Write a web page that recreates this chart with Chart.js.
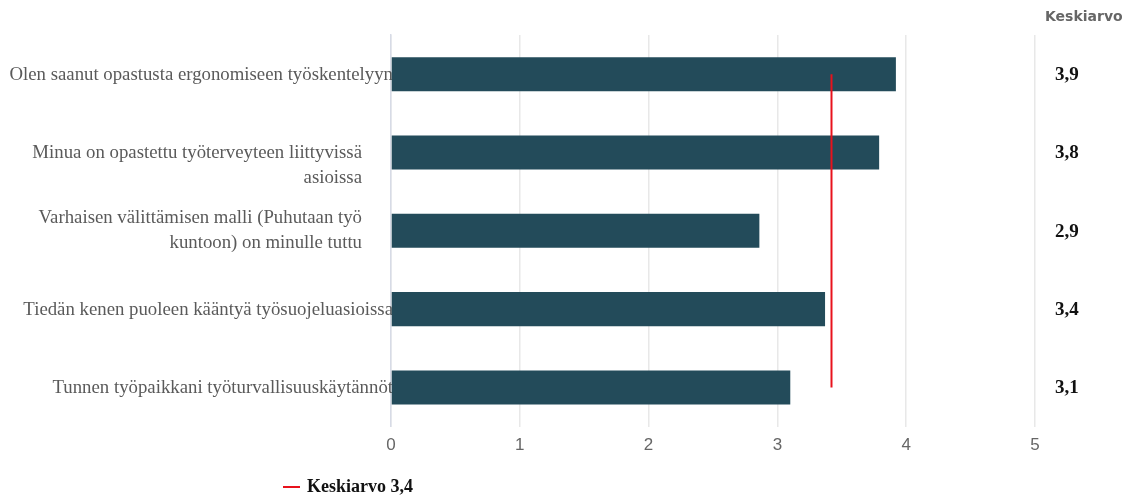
<!DOCTYPE html>
<html lang="fi">
<head>
<meta charset="utf-8">
<title>Työturvallisuus – keskiarvot</title>
<script src="https://cdn.jsdelivr.net/npm/chart.js@4.4.1/dist/chart.umd.min.js"></script>
<style>
  html, body { margin: 0; padding: 0; background: #ffffff; }
  #wrap { width: 1134px; height: 495px; position: relative; }
</style>
</head>
<body>
<div id="wrap"><canvas id="chart" width="1134" height="495"></canvas></div>
<script>
// Statements (lines split where the label wraps)
const statements = [
  ["Olen saanut opastusta ergonomiseen työskentelyyn"],
  ["Minua on opastettu työterveyteen liittyvissä", "asioissa"],
  ["Varhaisen välittämisen malli (Puhutaan työ", "kuntoon) on minulle tuttu"],
  ["Tiedän kenen puoleen kääntyä työsuojeluasioissa"],
  ["Tunnen työpaikkani työturvallisuuskäytännöt"]
];
// Mean score per statement (scale 0–5)
const meanScores = [3.92, 3.79, 2.86, 3.37, 3.10];
// Overall mean across all statements
const overallMean = 3.42;
const averageLine = [overallMean, overallMean, overallMean, overallMean, overallMean];
// Value axis ticks
const xTicks = [0, 1, 2, 3, 4, 5];

const fmt = v => v.toFixed(1).replace('.', ',');
const averageLabel = 'Keskiarvo ' + fmt(overallMean);

const serif = '"Liberation Serif", "Times New Roman", serif';
const narrow = '"Liberation Sans Narrow", "Arial Narrow", "Liberation Sans", sans-serif';

// Category labels on the left, drawn beneath the bars
const categoryLabels = {
  id: 'categoryLabels',
  beforeDatasetsDraw(chart) {
    const { ctx } = chart;
    const y = chart.scales.y;
    const left = chart.chartArea.left;
    const lineH = 25;
    ctx.save();
    ctx.font = '18.8px ' + serif;
    ctx.fillStyle = '#5a5a5a';
    ctx.textAlign = 'right';
    ctx.textBaseline = 'middle';
    statements.forEach((lines, i) => {
      const cy = y.getPixelForValue(i);
      if (lines.length === 1) {
        ctx.fillText(lines[0], left + 2, cy + 1);
      } else {
        // the first wrapped label hangs below its bar centre
        const top = i === 1 ? cy + 1 : cy - (lines.length - 1) * lineH / 2;
        lines.forEach((t, k) => ctx.fillText(t, left - 29, top + k * lineH));
      }
    });
    ctx.restore();
  }
};

// Column of mean values on the right, plus legend
const sideColumn = {
  id: 'sideColumn',
  afterDraw(chart) {
    const { ctx } = chart;
    const y = chart.scales.y;
    ctx.save();
    ctx.font = 'bold 14px "DejaVu Sans", sans-serif';
    ctx.fillStyle = '#666666';
    ctx.textAlign = 'left';
    ctx.textBaseline = 'middle';
    ctx.fillText('Keskiarvo', 1045, 17);

    ctx.font = 'bold 19px ' + serif;
    ctx.fillStyle = '#111111';
    meanScores.forEach((v, i) => {
      ctx.fillText(fmt(v), 1055, y.getPixelForValue(i) + 1);
    });

    // legend entry for the average line
    const ds = chart.data.datasets[1];
    ctx.strokeStyle = ds.borderColor;
    ctx.lineWidth = 2;
    ctx.beginPath();
    ctx.moveTo(283, 487);
    ctx.lineTo(300, 487);
    ctx.stroke();
    ctx.font = 'bold 18px ' + serif;
    ctx.fillStyle = '#111111';
    ctx.fillText(ds.label, 307, 487);
    ctx.restore();
  }
};

new Chart(document.getElementById('chart'), {
  type: 'bar',
  data: {
    labels: statements.map(l => l.join(' ')),
    datasets: [
      {
        label: 'Keskiarvo',
        data: meanScores,
        backgroundColor: '#234b5a',
        borderWidth: 0,
        categoryPercentage: 1,
        barPercentage: 0.435,
        order: 2
      },
      {
        type: 'line',
        label: averageLabel,
        indexAxis: 'y',
        data: averageLine,
        borderColor: '#e8121c',
        borderWidth: 2,
        pointRadius: 0,
        pointHoverRadius: 0,
        fill: false,
        order: 1
      }
    ]
  },
  options: {
    indexAxis: 'y',
    responsive: false,
    animation: false,
    layout: { padding: { top: 35, right: 99, bottom: 30, left: 6 } },
    plugins: {
      legend: { display: false },
      tooltip: { enabled: false }
    },
    scales: {
      x: {
        type: 'linear',
        min: 0,
        max: 5,
        afterBuildTicks: s => { s.ticks = xTicks.map(v => ({ value: v })); },
        grid: { color: '#e8e8e8', lineWidth: 1.5, drawTicks: false },
        border: { display: false },
        ticks: {
          padding: 9,
          color: '#666666',
          font: { family: narrow, size: 17 }
        }
      },
      y: {
        type: 'category',
        grid: { display: false },
        border: { display: true, color: '#d7dbe6', width: 1.5 },
        ticks: { display: false },
        afterFit: s => { s.width = 385; }
      }
    }
  },
  plugins: [categoryLabels, sideColumn]
});
</script>
</body>
</html>
